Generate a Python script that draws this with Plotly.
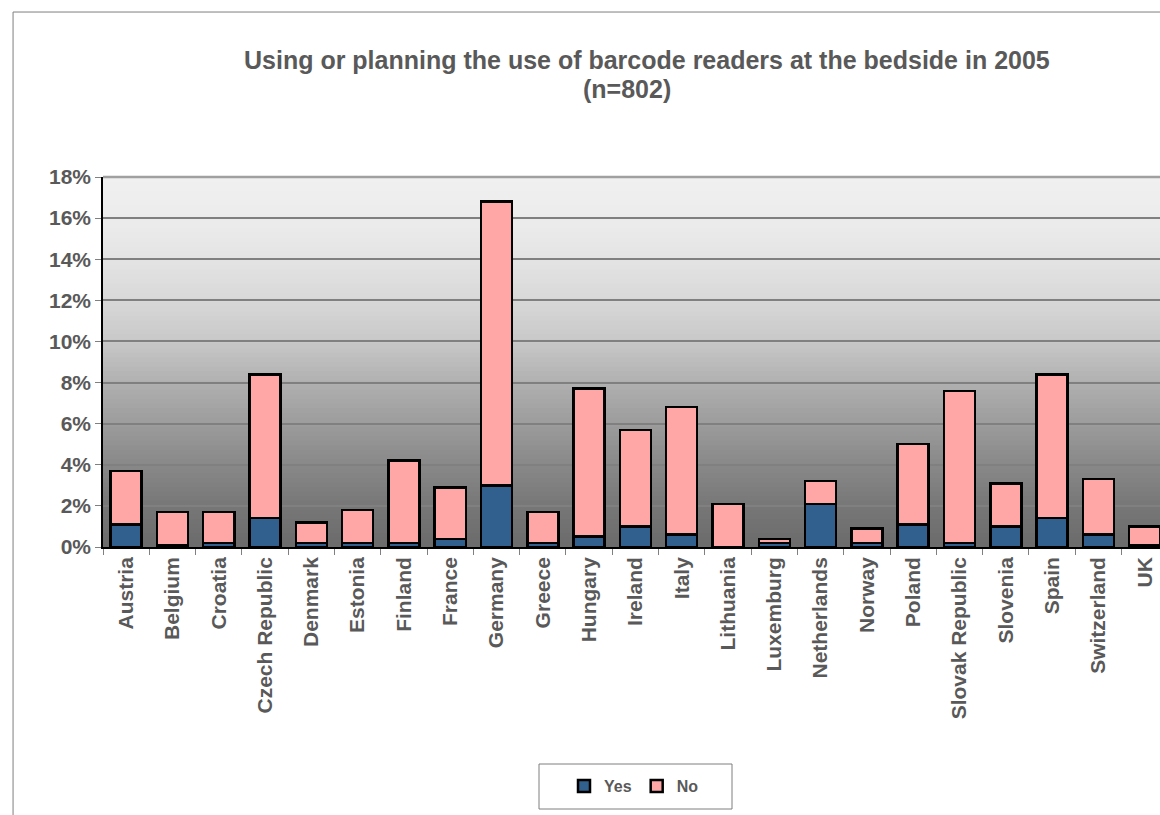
import plotly.graph_objects as go

countries = ["Austria", "Belgium", "Croatia", "Czech Republic", "Denmark", "Estonia",
             "Finland", "France", "Germany", "Greece", "Hungary", "Ireland", "Italy",
             "Lithuania", "Luxemburg", "Netherlands", "Norway", "Poland",
             "Slovak Republic", "Slovenia", "Spain", "Switzerland", "UK"]
total_pct = [3.7, 1.7, 1.7, 8.4, 1.2, 1.8, 4.2, 2.9, 16.8, 1.7, 7.7, 5.7, 6.8,
             2.1, 0.4, 3.2, 0.9, 5.0, 7.6, 3.1, 8.4, 3.3, 1.0]
yes_pct = [1.1, 0.1, 0.2, 1.4, 0.2, 0.2, 0.2, 0.4, 3.0, 0.2, 0.5, 1.0, 0.6,
           0.0, 0.2, 2.1, 0.2, 1.1, 0.2, 1.0, 1.4, 0.6, 0.1]
no_pct = [round(t - y, 2) for t, y in zip(total_pct, yes_pct)]

yes_vals = [v / 100 for v in yes_pct]
no_vals = [v / 100 for v in no_pct]

title_line1 = "Using or planning the use of barcode readers at the bedside in 2005"
title_line2 = "(n=802)"

FONT = "Liberation Sans, Arial, sans-serif"
TXT = "#595959"

fig = go.Figure()
fig.add_trace(go.Bar(x=countries, y=yes_vals, name="Yes",
                     marker=dict(color="#31608F", line=dict(color="black", width=2.5))))
fig.add_trace(go.Bar(x=countries, y=no_vals, name="No",
                     marker=dict(color="#FFA6A6", line=dict(color="black", width=2.5))))

# background gradient (plot area) as horizontal strips
anchors = [(0.0, 107), (2 / 18, 119), (4 / 18, 136), (6 / 18, 156), (8 / 18, 176),
           (10 / 18, 200), (12 / 18, 216), (14 / 18, 228), (16 / 18, 236), (1.0, 240)]


def gray_at(f):
    for (f0, g0), (f1, g1) in zip(anchors[:-1], anchors[1:]):
        if f0 <= f <= f1:
            return g0 + (g1 - g0) * (f - f0) / (f1 - f0)
    return anchors[-1][1]


shapes = []
N = 80
for i in range(N):
    f0 = i / N
    f1 = (i + 1) / N
    g = int(round(gray_at((f0 + f1) / 2)))
    shapes.append(dict(type="rect", xref="paper", yref="paper", x0=0, x1=1, y0=f0, y1=f1 + 0.002,
                       fillcolor=f"rgb({g},{g},{g})", line=dict(width=0), layer="below"))

# top border of plot area
shapes.append(dict(type="line", xref="paper", yref="paper", x0=0, x1=1, y0=1, y1=1,
                   line=dict(color="#A0A0A0", width=2.5), layer="above"))

# outer chart border (left & top)
shapes.append(dict(type="path", xref="paper", yref="paper",
                   path="M -0.0851,-0.9 L -0.0851,1.4459 L 1.05,1.4459",
                   line=dict(color="#7F7F7F", width=1)))

# legend box
lx0 = (539 - 103) / 1057
lx1 = (732 - 103) / 1057
ly0 = (547 - 809) / 370
ly1 = (547 - 764) / 370
shapes.append(dict(type="rect", xref="paper", yref="paper", x0=lx0, x1=lx1, y0=ly0, y1=ly1,
                   line=dict(color="#7F7F7F", width=1), fillcolor="white"))


def px_x(p):
    return (p - 103) / 1057


def px_y(p):
    return (547 - p) / 370


fig.update_layout(
    width=1160, height=815,
    margin=dict(l=103, r=0, t=177, b=268),
    paper_bgcolor="white",
    plot_bgcolor="#B0B0B0",
    barmode="stack",
    bargap=0.33,
    font=dict(family=FONT, color=TXT),
    shapes=shapes,
    showlegend=True,
    legend=dict(orientation="h", x=px_x(634), xanchor="center",
                y=px_y(786), yanchor="middle", traceorder="normal",
                bgcolor="rgba(0,0,0,0)", borderwidth=0, itemwidth=30,
                font=dict(family=FONT, size=16, color=TXT, weight="bold"),
                itemclick=False),
    annotations=[
        dict(text=title_line1, xref="paper", yref="paper", x=px_x(647), y=px_y(60),
             xanchor="center", yanchor="middle", showarrow=False,
             font=dict(family=FONT, size=25, color=TXT, weight="bold")),
        dict(text=title_line2, xref="paper", yref="paper", x=px_x(627), y=px_y(89),
             xanchor="center", yanchor="middle", showarrow=False,
             font=dict(family=FONT, size=25, color=TXT, weight="bold")),
    ],
)

fig.update_xaxes(type="category", range=[-0.5, 22.33], tickson="boundaries",
                 ticks="outside", ticklen=6, tickcolor="#808080", tickwidth=1,
                 showline=True, linecolor="black", linewidth=1.5,
                 tickangle=-90, showgrid=False,
                 tickfont=dict(family=FONT, size=21, color=TXT, weight="bold"))
fig.update_yaxes(range=[0, 0.18], dtick=0.02, tickformat=".0%",
                 showgrid=True, gridcolor="#808080", gridwidth=1.5,
                 zeroline=False, showline=True, linecolor="black", linewidth=1.5,
                 ticks="outside", ticklen=6, tickcolor="#808080",
                 tickfont=dict(family=FONT, size=21, color=TXT, weight="bold"))

fig.write_html("out.html", config={"displayModeBar": False},
               post_script="document.body.style.margin='0';document.body.style.overflow='hidden';")
